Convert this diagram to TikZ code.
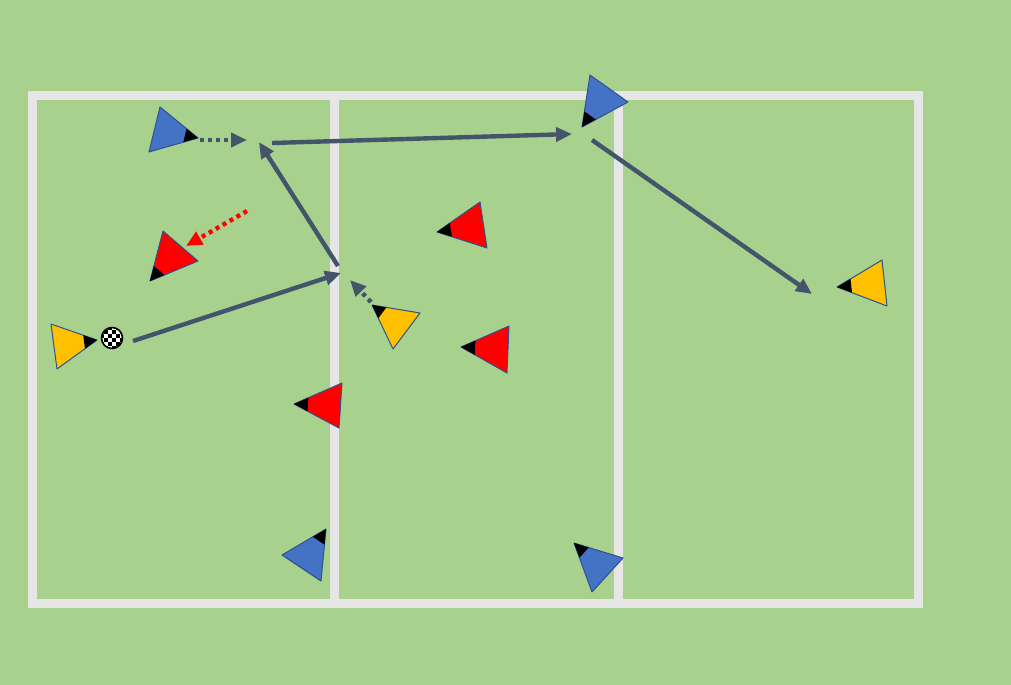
\documentclass[tikz,border=0pt]{standalone}
\usetikzlibrary{arrows.meta,calc}
\definecolor{pitch}{RGB}{169,209,142}
\definecolor{chalk}{RGB}{230,230,230}
\definecolor{runline}{RGB}{68,84,106}
\definecolor{coneedge}{RGB}{47,82,143}
\definecolor{teamblue}{RGB}{68,114,196}
\definecolor{teamred}{RGB}{255,0,0}
\definecolor{teamyellow}{RGB}{255,192,0}
\tikzset{every picture/.style={line width=0.75pt}}
\tikzset{
  pitchline/.style={draw=chalk,line width=6.75pt,line cap=rect},
  player/.style={draw=coneedge,line width=0.75pt,line join=round},
  pass/.style={draw=runline,line width=3.3pt,-{Triangle[length=12pt,width=10.5pt]}},
  run/.style={pass,dash pattern=on 3pt off 3pt},
  press/.style={run,draw=teamred}
}
% #1 colour, #2 facing corner, #3 and #4 back corners
\newcommand{\drawplayer}[4]{%
  \draw[player,fill=#1] #2 -- #3 -- #4 -- cycle;
  \fill[black] #2 -- ($#2!0.3!#3$) -- ($#2!0.3!#4$) -- cycle;
}

\begin{document}
\begin{tikzpicture}[x=0.75pt,y=0.75pt,yscale=-1,xscale=1]
%Shape: Rectangle (grass)
\fill[pitch] (0,0) rectangle (1011,685);
%Shape: Pitch lines
\draw[pitchline] (32.5,96) rectangle (918.5,603.5);
\draw[pitchline] (334,96) -- (334,603.5);
\draw[pitchline] (618,96) -- (618,603.5);

%Arrow end points
\coordinate (runAs) at (200,140);
\coordinate (runAe) at (247,140);
\coordinate (passAs) at (133,341);
\coordinate (passAe) at (341,273);
\coordinate (passBs) at (338,266);
\coordinate (passBe) at (259,142);
\coordinate (passCs) at (272,143);
\coordinate (passCe) at (572,134);
\coordinate (passDs) at (592,140);
\coordinate (passDe) at (812,294);
\coordinate (runBs) at (371,302);
\coordinate (runBe) at (350,280);
\coordinate (pressAs) at (247,211);
\coordinate (pressAe) at (186,246);

%Straight Lines [passes and runs]
\draw[run] (runAs) -- (runAe);
\draw[pass] (passAs) -- (passAe);
\draw[pass] (passBs) -- (passBe);
\draw[pass] (passCs) -- (passCe);
\draw[pass] (passDs) -- (passDe);
\draw[run] (runBs) -- (runBe);
\draw[press] (pressAs) -- (pressAe);

%Shape: Triangle [players]
\drawplayer{teamblue}{(198,138)}{(160,107)}{(149,152)}
\drawplayer{teamred}{(150,281)}{(163,231)}{(198,261)}
\drawplayer{teamyellow}{(97,340)}{(51,324)}{(57,369)}
\drawplayer{teamyellow}{(372,305)}{(420,313)}{(393,349)}
\drawplayer{teamred}{(294,404)}{(342,383)}{(339,428)}
\drawplayer{teamblue}{(582,127)}{(590,75)}{(628,102)}
\drawplayer{teamred}{(437,232)}{(480,202)}{(487,248)}
\drawplayer{teamred}{(461,347)}{(509,326)}{(507,373)}
\drawplayer{teamyellow}{(837,287)}{(882,260)}{(887,306)}
\drawplayer{teamblue}{(326,529)}{(282,555)}{(321,581)}
\drawplayer{teamblue}{(574,543)}{(623,558)}{(592,592)}

%Shape: Circle [ball]
\begin{scope}
  \clip (112,338) circle (10.5);
  \fill[white] (112,338) circle (10.5);
  \foreach \i in {-3,...,2}{
    \foreach \j in {-3,...,2}{
      \pgfmathtruncatemacro\sqpar{mod(\i+\j+6,2)}
      \ifnum\sqpar=0
        \fill[black] (112+\i*4.2,338+\j*4.2) rectangle ++(4.2,4.2);
      \fi
    }
  }
\end{scope}
\draw[black,line width=1.2pt] (112,338) circle (10.5);
\end{tikzpicture}
\end{document}
